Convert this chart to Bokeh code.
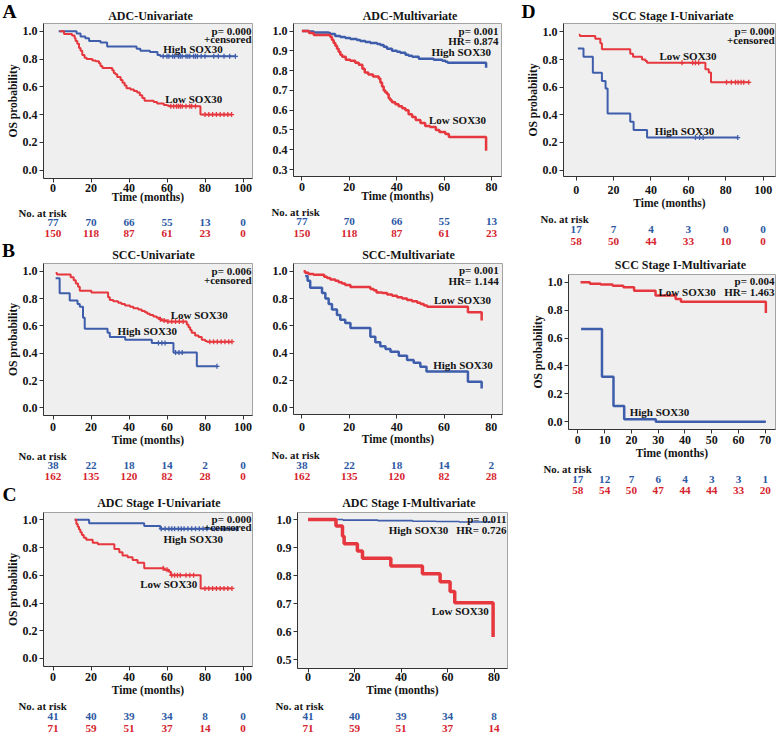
import numpy as np
from bokeh.plotting import figure
from bokeh.models import Range1d, FixedTicker, Label, NumeralTickFormatter, Plot
from bokeh.core.properties import value
from bokeh.layouts import row, column
from bokeh.embed import file_html
from bokeh.resources import INLINE

# ======================= DATA =======================
# --- A: ADC univariate ---
adc_uni_high_t = [3, 12.4, 14.5, 17, 19, 25, 28.5, 44, 46, 51, 55, 56.5, 96]
adc_uni_high_s = [1.0, 0.984, 0.962, 0.95, 0.93, 0.92, 0.89, 0.875, 0.86, 0.85, 0.83, 0.82, 0.82]
adc_uni_high_cens = [58, 60, 61, 63, 64, 66, 67, 68, 70, 71, 72, 74, 75, 76, 78, 80, 84.6, 87, 90, 93, 96]
adc_uni_low_t = [3.5, 5.8, 10, 11.4, 11.9, 12.8, 13.7, 14.5, 15.4, 16.6, 17.7, 20.7, 22.4, 24.2, 25, 26,
                 31.2, 32, 32.8, 33.8, 35.6, 36.6, 37.7, 38.7, 40.8, 42.6, 44.3, 45.7, 47, 48.2, 53, 54.8,
                 58.3, 60, 61, 77.6, 94.2]
adc_uni_low_s = [1.0, 0.98, 0.97, 0.95, 0.93, 0.91, 0.88, 0.86, 0.83, 0.81, 0.80, 0.79, 0.785, 0.77, 0.75,
                 0.735, 0.72, 0.70, 0.69, 0.67, 0.65, 0.63, 0.61, 0.59, 0.58, 0.57, 0.56, 0.54, 0.52, 0.50,
                 0.49, 0.48, 0.47, 0.465, 0.46, 0.40, 0.40]
adc_uni_low_cens = [62, 63.5, 65, 66, 67, 68, 70, 72, 73, 75, 80, 82, 84, 86, 88, 90, 92, 94]

# --- A: ADC multivariate ---
adc_multi_high_t = [0, 2.8, 5, 11.3, 12, 14, 16.2, 18.3, 20.4, 23.2, 24.6, 26.8, 28.9, 31.7, 33.1, 34.5,
                    35.9, 38, 40.1, 41.5, 43.7, 45, 46.5, 49.3, 55.6, 59.2, 60.6, 61.5, 77.7]
adc_multi_high_s = [1.0, 0.997, 0.993, 0.99, 0.985, 0.975, 0.97, 0.965, 0.96, 0.955, 0.95, 0.945, 0.94,
                    0.935, 0.93, 0.92, 0.91, 0.90, 0.895, 0.89, 0.88, 0.875, 0.87, 0.86, 0.855, 0.85,
                    0.845, 0.84, 0.815]
adc_multi_low_t = [0, 3, 5, 12, 12.7, 13.4, 14.1, 14.8, 15.5, 16.2, 17, 18.5, 20.4, 22.5, 24, 25.5, 26.5,
                   28, 30, 32.4, 33.1, 33.8, 34.5, 35.2, 36, 36.6, 37.3, 38, 39.4, 40.8, 42.3, 43.7, 45,
                   46.5, 48, 50, 52, 54, 56.5, 58, 60.5, 62, 77.7]
adc_multi_low_s = [1.0, 0.99, 0.98, 0.97, 0.955, 0.94, 0.925, 0.91, 0.895, 0.88, 0.87, 0.855, 0.85, 0.84,
                   0.83, 0.81, 0.79, 0.78, 0.77, 0.76, 0.74, 0.72, 0.70, 0.69, 0.68, 0.66, 0.65, 0.64,
                   0.63, 0.62, 0.61, 0.60, 0.58, 0.565, 0.55, 0.535, 0.52, 0.515, 0.50, 0.49, 0.48,
                   0.465, 0.395]

# --- B: SCC univariate ---
scc_uni_low_t = [1.4, 2.1, 9.3, 10.9, 12, 13.2, 14.1, 20.2, 29, 29.9, 31.7, 34.3, 36, 37.9, 40.5, 42.3,
                 44.9, 46.7, 48.4, 49.6, 51, 52.8, 54.6, 56, 57.2, 59.9, 70.4, 71.3, 72.2, 73, 74.8,
                 76.6, 78.3, 80.1, 81, 94.2]
scc_uni_low_s = [0.988, 0.976, 0.957, 0.934, 0.91, 0.886, 0.858, 0.845, 0.81, 0.79, 0.78, 0.77, 0.76,
                 0.75, 0.74, 0.73, 0.72, 0.71, 0.70, 0.69, 0.68, 0.67, 0.66, 0.65, 0.64, 0.632, 0.61,
                 0.59, 0.57, 0.55, 0.53, 0.52, 0.50, 0.49, 0.485, 0.485]
scc_uni_low_cens = [56.5, 58.5, 60.5, 62.5, 64.5, 66.5, 68.5, 82.5, 84.5, 86.5, 88.5, 90.5, 92.5, 94.2]
scc_uni_high_t = [1.4, 3.5, 8.8, 12.9, 14.1, 15.8, 16.7, 28.7, 29.9, 38, 52, 63.4, 75.7, 86.3]
scc_uni_high_s = [0.95, 0.84, 0.787, 0.76, 0.74, 0.66, 0.58, 0.55, 0.52, 0.50, 0.475, 0.405, 0.305, 0.305]
scc_uni_high_cens = [55.5, 57.3, 59, 64.5, 66.3, 68, 86.3]

# --- B: SCC multivariate ---
scc_multi_low_t = [0.7, 1.4, 2.8, 4.9, 9.4, 10.6, 12, 14.1, 15.5, 16.9, 18.3, 20.5, 28.9, 30.3, 31.5,
                   33.9, 36, 38.1, 40.2, 42.3, 44.4, 46.5, 48.7, 50.1, 51.5, 52.9, 70.1, 75.9]
scc_multi_low_s = [1.0, 0.99, 0.98, 0.975, 0.96, 0.95, 0.94, 0.93, 0.92, 0.91, 0.90, 0.885, 0.87, 0.86,
                   0.845, 0.84, 0.83, 0.82, 0.81, 0.80, 0.79, 0.78, 0.77, 0.76, 0.75, 0.74, 0.70, 0.64]
scc_multi_high_t = [1.4, 2.4, 3.5, 8.5, 9.9, 11.3, 12.7, 14.8, 16.2, 18.3, 20.5, 28.9, 31, 33.1, 35.3,
                    37.4, 40.9, 44.4, 47.2, 50, 52.6, 70.1, 75.9]
scc_multi_high_s = [0.965, 0.93, 0.88, 0.84, 0.80, 0.76, 0.72, 0.68, 0.645, 0.62, 0.585, 0.52, 0.48,
                    0.45, 0.43, 0.41, 0.38, 0.35, 0.33, 0.30, 0.265, 0.19, 0.14]

# --- C: ADC stage I univariate ---
adc1_uni_high_t = [11.4, 19, 48, 56.5, 96.5]
adc1_uni_high_s = [1.0, 0.975, 0.955, 0.935, 0.935]
adc1_uni_high_cens = [57, 59, 61, 62.5, 64, 66, 67.5, 69, 71, 73, 75, 77, 79, 81, 85, 90, 93, 96.5]
adc1_uni_low_t = [11.4, 12.3, 13, 13.7, 14.4, 15.2, 16.2, 17.5, 20.9, 23.6, 32.3, 34.9, 36.6, 39.3,
                  41.9, 44.5, 48, 58.5, 61, 62, 77.7, 94.2]
adc1_uni_low_s = [1.0, 0.97, 0.95, 0.93, 0.91, 0.89, 0.87, 0.856, 0.835, 0.824, 0.79, 0.767, 0.743,
                  0.73, 0.71, 0.69, 0.65, 0.64, 0.625, 0.60, 0.505, 0.505]
adc1_uni_low_cens = [58, 60, 62.5, 64, 65.5, 67, 70, 72, 74, 80, 82, 84, 86, 88, 90, 92, 94.2]

# --- C: ADC stage I multivariate ---
adc1_multi_high_t = [0, 15, 30, 45, 55, 65, 79.5]
adc1_multi_high_s = [1.0, 0.998, 0.996, 0.994, 0.993, 0.991, 0.99]
adc1_multi_low_t = [0, 12, 14.8, 15.5, 21.2, 23.4, 35.6, 49.2, 56.8, 61.1, 63.1, 79.6]
adc1_multi_low_s = [1.0, 0.977, 0.94, 0.914, 0.888, 0.862, 0.834, 0.807, 0.778, 0.743, 0.703, 0.581]

# --- D: SCC stage I univariate ---
scc1_uni_low_t = [1.4, 2, 10.2, 12.9, 13.75, 28.9, 30.4, 35.2, 37, 37.9, 69.1, 70.9, 72.1, 92.3]
scc1_uni_low_s = [0.98, 0.97, 0.95, 0.918, 0.875, 0.842, 0.82, 0.80, 0.79, 0.776, 0.73, 0.706, 0.635, 0.635]
scc1_uni_low_cens = [56.6, 62.3, 63.8, 65.5, 80.4, 83, 85.2, 86.6, 88.2, 89.6, 92.3]
scc1_uni_high_t = [0.9, 3.9, 8.9, 13.75, 15.7, 16.8, 28.9, 30.7, 37.9, 86.4]
scc1_uni_high_s = [0.88, 0.82, 0.705, 0.645, 0.59, 0.41, 0.35, 0.29, 0.235, 0.235]
scc1_uni_high_cens = [63.8, 66, 67.9, 86.4]

# --- D: SCC stage I multivariate ---
scc1_multi_high_t = [1.2, 9, 13.3, 17.3, 29.1, 70.2]
scc1_multi_high_s = [0.665, 0.322, 0.112, 0.018, 0.0, 0.0]
scc1_multi_low_t = [1, 4.5, 8.5, 13, 17, 21, 29, 36.5, 38.5, 70.2]
scc1_multi_low_s = [1.0, 0.99, 0.985, 0.975, 0.965, 0.94, 0.905, 0.88, 0.86, 0.78]

# --- numbers at risk ---
risk_t_100 = [0, 20, 40, 60, 80, 100]
risk_t_80 = [0, 20, 40, 60, 80]
risk_t_70 = [0, 10, 20, 30, 40, 50, 60, 70]
adc_risk_high = [77, 70, 66, 55, 13, 0]
adc_risk_low = [150, 118, 87, 61, 23, 0]
scc_risk_high = [38, 22, 18, 14, 2, 0]
scc_risk_low = [162, 135, 120, 82, 28, 0]
adc1_risk_high = [41, 40, 39, 34, 8, 0]
adc1_risk_low = [71, 59, 51, 37, 14, 0]
scc1_uni_risk_high = [17, 7, 4, 3, 0, 0]
scc1_uni_risk_low = [58, 50, 44, 33, 10, 0]
scc1_multi_risk_high = [17, 12, 7, 6, 4, 3, 3, 1]
scc1_multi_risk_low = [58, 54, 50, 47, 44, 44, 33, 20]

ticks_0_100 = [0, 20, 40, 60, 80, 100]
ticks_0_80 = [0, 20, 40, 60, 80]
ticks_0_70 = [0, 10, 20, 30, 40, 50, 60, 70]
yt_0_1 = [0.0, 0.2, 0.4, 0.6, 0.8, 1.0]
yt_03_1 = [0.3, 0.4, 0.5, 0.6, 0.7, 0.8, 0.9, 1.0]
yt_05_1 = [0.5, 0.6, 0.7, 0.8, 0.9, 1.0]

# ======================= STYLE =======================
FONT = "Liberation Serif"
BLUE = "#3e5dab"
RED = "#e5373d"
BLUE_T = "#2c58a3"
RED_T = "#d6232d"
INK = "#141414"
COLS = {"L": (0, 258), "M": (258, 510), "R": (510, 777)}
NOALIGN = {"frame_align": False} if "frame_align" in Plot.properties() else {}
LETTER = "19.5px"


def surv_at(t, s, tc):
    idx = np.searchsorted(np.asarray(t), np.asarray(tc), side="right") - 1
    idx = np.clip(idx, 0, len(s) - 1)
    return list(np.asarray(s)[idx])


def mapper(spec):
    l, t, r, b = spec["frame"]
    xr, yr = spec["xr"], spec["yr"]

    def dx(px):
        return xr[0] + (px - l) / (r - l) * (xr[1] - xr[0])

    def dy(py):
        return yr[1] - (py - t) / (b - t) * (yr[1] - yr[0])
    return dx, dy


def build_main(spec):
    cx0, cx1 = COLS[spec["col"]]
    sy0, sy1 = spec["seg"]
    l, t, r, b = spec["frame"]
    p = figure(width=cx1 - cx0, height=sy1 - sy0,
               x_range=Range1d(*spec["xr"]), y_range=Range1d(*spec["yr"]),
               min_border_left=l - cx0, min_border_right=cx1 - r,
               min_border_top=t - sy0, min_border_bottom=sy1 - b,
               output_backend="svg", toolbar_location=None, tools="", **NOALIGN)
    dx, dy = mapper(spec)
    p.background_fill_color = "#efefef"
    p.border_fill_color = "white"
    p.outline_line_color = "#a3a3a3"
    p.xgrid.visible = False
    p.ygrid.visible = False
    for ax in (p.xaxis[0], p.yaxis[0]):
        ax.axis_line_color = "#333333"
        ax.major_tick_line_color = "#333333"
        ax.major_tick_out = 4
        ax.major_tick_in = 0
        ax.minor_tick_line_color = None
        ax.major_label_text_font = FONT
        ax.major_label_text_font_style = "bold"
        ax.major_label_text_font_size = "12px"
        ax.major_label_text_color = INK
        ax.axis_label_text_font = FONT
        ax.axis_label_text_font_style = "bold"
        ax.axis_label_text_font_size = "11.5px"
        ax.axis_label_text_color = INK
    p.xaxis.ticker = FixedTicker(ticks=spec["xticks"])
    p.yaxis.ticker = FixedTicker(ticks=spec["yticks"])
    p.yaxis.formatter = NumeralTickFormatter(format="0.0")
    p.xaxis.axis_label = "Time (months)"
    p.xaxis.major_label_standoff = spec["s_tick"]
    p.xaxis.axis_label_standoff = spec["s_lab"]
    p.yaxis.major_label_standoff = 2
    p.yaxis.axis_label_standoff = 1
    if spec.get("ylabel"):
        p.yaxis.axis_label = spec["ylabel"]

    for (ct, cs, cc, color, lw) in spec["curves"]:
        p.step(x=ct, y=cs, mode="after", line_color=color, line_width=lw)
        if cc:
            p.scatter(x=cc, y=surv_at(ct, cs, cc), marker="cross", size=5,
                      line_color=color, line_width=1.3)

    for (text, px, py, align) in spec["texts"]:
        p.add_layout(Label(x=dx(px), y=dy(py), text=text, text_align=align,
                           text_baseline="middle", text_font=FONT, text_font_style="bold",
                           text_font_size="11px", text_color=INK))
    return p


def build_strip(col, y0, y1, map_spec, risk_spec=None, texts=()):
    cx0, cx1 = COLS[col]
    dx, _ = mapper(map_spec)
    p = figure(frame_width=cx1 - cx0, frame_height=y1 - y0,
               x_range=Range1d(dx(cx0), dx(cx1)), y_range=Range1d(y1, y0),
               min_border=0, min_border_left=0, min_border_right=0,
               min_border_top=0, min_border_bottom=0,
               x_axis_type=None, y_axis_type=None,
               output_backend="svg", toolbar_location=None, tools="", **NOALIGN)
    p.outline_line_color = None
    p.background_fill_color = "white"
    p.border_fill_color = "white"

    def txt(xs, ys, strings, size, color, align):
        p.text(x=xs, y=ys, text=strings, text_font=value(FONT), text_font_style="bold",
               text_font_size=value(size), text_color=color, text_align=align,
               text_baseline="middle")

    if risk_spec is not None:
        rt, hi, lo = risk_spec["risk"]
        rlx, rly, rhy, rloy = risk_spec["risk_pos"]
        txt([dx(rlx)], [rly], ["No. at risk"], "10.8px", INK, "left")
        txt(rt, [rhy] * len(rt), [str(v) for v in hi], "11.2px", BLUE_T, "center")
        txt(rt, [rloy] * len(rt), [str(v) for v in lo], "11.2px", RED_T, "center")
    for (s, px, py, size) in texts:
        txt([dx(px)], [py], [s], size, "#000000" if size == LETTER else INK, "center")
    return p


A1 = dict(col="L", seg=(22, 205), frame=(43, 23, 252, 182), xr=(-5, 105), yr=(-0.06, 1.056),
          s_tick=1, s_lab=-4,
          xticks=ticks_0_100, yticks=yt_0_1, ylabel="OS probability",
          curves=[(adc_uni_high_t, adc_uni_high_s, adc_uni_high_cens, BLUE, 2),
                  (adc_uni_low_t, adc_uni_low_s, adc_uni_low_cens, RED, 2)],
          texts=[("p= 0.000", 251, 30.5, "right"), ("+censored", 251, 39, "right"),
                 ("High SOX30", 192.5, 49, "center"), ("Low SOX30", 193.3, 100, "center")],
          risk=(risk_t_100, adc_risk_high, adc_risk_low), risk_pos=(18, 212, 221.5, 233))
A2 = dict(col="M", seg=(22, 204), frame=(293, 23, 501, 180), xr=(-3.55, 84.2), yr=(0.265, 1.038),
          s_tick=2, s_lab=-4,
          xticks=ticks_0_80, yticks=yt_03_1,
          curves=[(adc_multi_high_t, adc_multi_high_s, None, BLUE, 2.5),
                  (adc_multi_low_t, adc_multi_low_s, None, RED, 2.5)],
          texts=[("p= 0.001", 498, 30.5, "right"), ("HR= 0.874", 498, 41, "right"),
                 ("High SOX30", 460.8, 52.7, "center"), ("Low SOX30", 457, 122, "center")],
          risk=(risk_t_80, adc_risk_high[:5], adc_risk_low[:5]), risk_pos=(271, 211, 221, 233))
B1 = dict(col="L", seg=(262, 448), frame=(43, 263, 252, 419), xr=(-5, 105), yr=(-0.055, 1.057),
          s_tick=3, s_lab=0,
          xticks=ticks_0_100, yticks=yt_0_1, ylabel="OS probability",
          curves=[(scc_uni_high_t, scc_uni_high_s, scc_uni_high_cens, BLUE, 2),
                  (scc_uni_low_t, scc_uni_low_s, scc_uni_low_cens, RED, 2)],
          texts=[("p= 0.006", 251, 271, "right"), ("+censored", 251, 279.5, "right"),
                 ("Low SOX30", 198.7, 315.7, "center"), ("High SOX30", 146.7, 332.3, "center")],
          risk=(risk_t_100, scc_risk_high, scc_risk_low), risk_pos=(18, 455, 465, 476))
B2 = dict(col="M", seg=(262, 447), frame=(293, 263, 502, 418), xr=(-3.55, 84.7), yr=(-0.05, 1.057),
          s_tick=4, s_lab=-1,
          xticks=ticks_0_80, yticks=yt_0_1,
          curves=[(scc_multi_high_t, scc_multi_high_s, None, BLUE, 2.5),
                  (scc_multi_low_t, scc_multi_low_s, None, RED, 2.5)],
          texts=[("p= 0.001", 498.3, 270, "right"), ("HR= 1.144", 498.3, 280.5, "right"),
                 ("Low SOX30", 462, 300, "center"), ("High SOX30", 462.5, 366.7, "center")],
          risk=(risk_t_80, scc_risk_high[:5], scc_risk_low[:5]), risk_pos=(271, 454, 464.5, 476))
C1 = dict(col="L", seg=(510, 698), frame=(43, 512, 252, 670), xr=(-5, 105), yr=(-0.058, 1.053),
          s_tick=2, s_lab=0,
          xticks=ticks_0_100, yticks=yt_0_1, ylabel="OS probability",
          curves=[(adc1_uni_high_t, adc1_uni_high_s, adc1_uni_high_cens, BLUE, 2),
                  (adc1_uni_low_t, adc1_uni_low_s, adc1_uni_low_cens, RED, 2)],
          texts=[("p= 0.000", 251, 518.5, "right"), ("+censored", 251, 526.5, "right"),
                 ("High SOX30", 192.8, 539.5, "center"), ("Low SOX30", 168.3, 585, "center")],
          risk=(risk_t_100, adc1_risk_high, adc1_risk_low), risk_pos=(18, 705, 716, 727.5))
C2 = dict(col="M", seg=(510, 698), frame=(297, 512, 507, 672), xr=(-4.56, 85.8), yr=(0.469, 1.025),
          s_tick=0, s_lab=0,
          xticks=ticks_0_80, yticks=yt_05_1,
          curves=[(adc1_multi_high_t, adc1_multi_high_s, None, BLUE, 1.6),
                  (adc1_multi_low_t, adc1_multi_low_s, None, RED, 3.5)],
          texts=[("p= 0.011", 506, 518.5, "right"), ("HR= 0.726", 506, 530, "right"),
                 ("High SOX30", 418, 530, "center"), ("Low SOX30", 459.7, 613.3, "center")],
          risk=(risk_t_80, adc1_risk_high[:5], adc1_risk_low[:5]), risk_pos=(275, 705, 716, 727.5))
D1 = dict(col="R", seg=(22, 211), frame=(563, 23, 775, 180), xr=(-6.8, 106.6), yr=(-0.047, 1.061),
          s_tick=5, s_lab=0,
          xticks=ticks_0_100, yticks=yt_0_1, ylabel="OS probability",
          curves=[(scc1_uni_high_t, scc1_uni_high_s, scc1_uni_high_cens, BLUE, 2),
                  (scc1_uni_low_t, scc1_uni_low_s, scc1_uni_low_cens, RED, 2)],
          texts=[("p= 0.000", 774, 30.5, "right"), ("+censored", 774, 39.5, "right"),
                 ("Low SOX30", 687.5, 56.7, "center"), ("High SOX30", 684, 133.3, "center")],
          risk=(risk_t_100, scc1_uni_risk_high, scc1_uni_risk_low), risk_pos=(540, 218, 229, 241))
D2 = dict(col="R", seg=(272, 461), frame=(568, 274, 775, 433), xr=(-3.5, 73.8), yr=(-0.056, 1.056),
          s_tick=2, s_lab=0,
          xticks=ticks_0_70, yticks=yt_0_1, ylabel="OS probability",
          curves=[(scc1_multi_high_t, scc1_multi_high_s, None, BLUE, 2.5),
                  (scc1_multi_low_t, scc1_multi_low_s, None, RED, 2.5)],
          texts=[("p= 0.004", 774, 281, "right"), ("Low SOX30", 686.6, 292, "center"),
                 ("HR= 1.463", 774, 292, "right"), ("High SOX30", 659, 415, "center")],
          risk=(risk_t_70, scc1_multi_risk_high, scc1_multi_risk_low), risk_pos=(543, 468, 478.5, 490))

left_col = column(
    build_strip("L", 0, 22, A1, texts=[("A", 9, 11, LETTER), ("ADC-Univariate", 150, 15, "12px")]),
    build_main(A1),
    build_strip("L", 205, 262, A1, A1, texts=[("B", 8, 249.5, LETTER),
                                               ("SCC-Univariate", 153, 254.5, "12px")]),
    build_main(B1),
    build_strip("L", 448, 510, B1, B1, texts=[("C", 9, 494, LETTER),
                                               ("ADC Stage I-Univariate", 158.3, 502.5, "12px")]),
    build_main(C1),
    build_strip("L", 698, 735, C1, C1),
)
mid_col = column(
    build_strip("M", 0, 22, A2, texts=[("ADC-Multivariate", 409.5, 15, "12px")]),
    build_main(A2),
    build_strip("M", 204, 262, A2, A2, texts=[("SCC-Multivariate", 408, 254.5, "12px")]),
    build_main(B2),
    build_strip("M", 447, 510, B2, B2, texts=[("ADC Stage I-Multivariate", 408.3, 502.5, "12px")]),
    build_main(C2),
    build_strip("M", 698, 735, C2, C2),
)
right_col = column(
    build_strip("R", 0, 22, D1, texts=[("D", 528, 11, LETTER),
                                        ("SCC Stage I-Univariate", 672.5, 15, "12px")]),
    build_main(D1),
    build_strip("R", 211, 272, D1, D1, texts=[("SCC Stage I-Multivariate", 680, 264.5, "12px")]),
    build_main(D2),
    build_strip("R", 461, 735, D2, D2),
)
layout = row(left_col, mid_col, right_col)

open("out.html", "w").write(file_html(layout, INLINE))
